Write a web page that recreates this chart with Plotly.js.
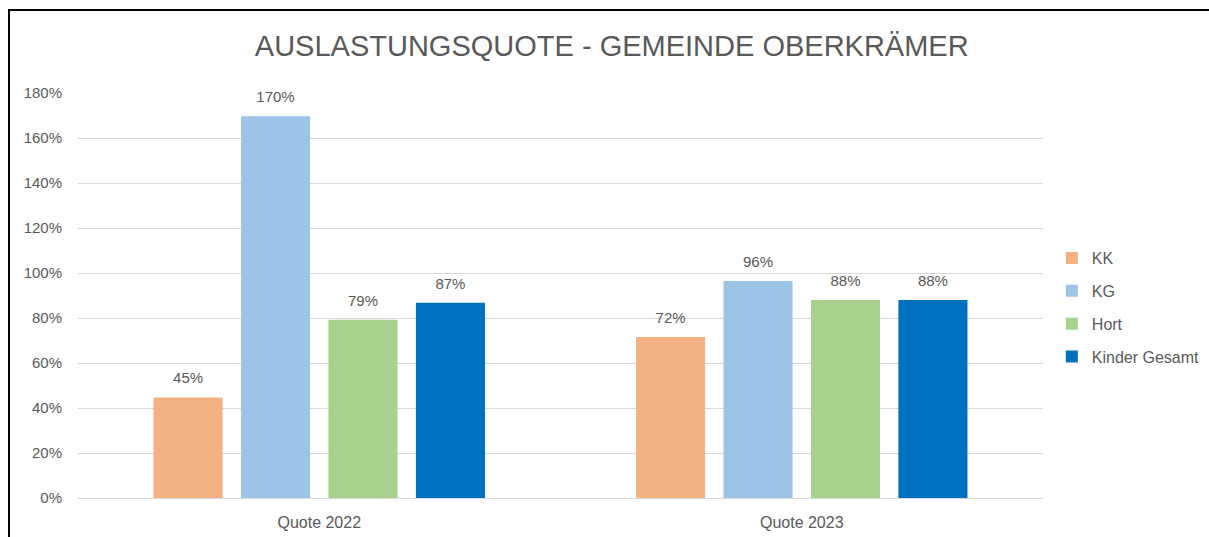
<!DOCTYPE html>
<html>
<head>
<meta charset="utf-8">
<script src="https://cdn.plot.ly/plotly-3.0.1.min.js"></script>
<style>
  html, body { margin: 0; padding: 0; background: #fff; }
  #wrap { position: relative; width: 1209px; height: 537px; overflow: hidden; }
  #chart { position: absolute; left: 0; top: 0; width: 1209px; height: 537px; }
  #frame { position: absolute; left: 8px; top: 9px; width: 1210px; height: 540px;
           border-left: 2px solid #000; border-top: 2px solid #000; pointer-events: none; }
</style>
</head>
<body>
<div id="wrap">
  <div id="chart"></div>
  <div id="frame"></div>
</div>
<script>
const categories = ["Quote 2022", "Quote 2023"];
const seriesNames = ["KK", "KG", "Hort", "Kinder Gesamt"];
const kk = [0.447, 0.716];
const kg = [1.697, 0.964];
const hort = [0.792, 0.880];
const kinderGesamt = [0.868, 0.880];
const seriesValues = [kk, kg, hort, kinderGesamt];
const colors = ["#F4B183", "#9DC3E6", "#A9D18E", "#0070C0"];
const yTicks = [0, 0.2, 0.4, 0.6, 0.8, 1.0, 1.2, 1.4, 1.6, 1.8];

const fontFam = "Liberation Sans, Arial, sans-serif";
const grey = "#595959";
const GAP = 0.275;

const barTraces = seriesNames.map((name, i) => ({
  type: "bar",
  name: name,
  x: categories,
  y: seriesValues[i],
  marker: { color: colors[i] },
  legendgroup: "g" + i,
  hoverinfo: "skip"
}));

const labelTraces = seriesNames.map((name, i) => ({
  type: "scatter",
  mode: "markers+text",
  name: name + " label",
  x: categories,
  y: seriesValues[i],
  text: seriesValues[i].map(v => Math.round(v * 100) + "%"),
  textposition: "top center",
  textfont: { family: fontFam, size: 15, color: grey },
  marker: { size: 15, opacity: 0, color: colors[i] },
  cliponaxis: false,
  showlegend: false,
  hoverinfo: "skip"
}));

const layout = {
  width: 1209,
  height: 537,
  margin: { l: 78, r: 166, t: 93, b: 39, autoexpand: false },
  paper_bgcolor: "#ffffff",
  plot_bgcolor: "#ffffff",
  font: { family: fontFam, color: grey, size: 14 },
  title: {
    text: "AUSLASTUNGSQUOTE - GEMEINDE OBERKRÄMER",
    font: { family: fontFam, size: 29, color: grey },
    x: 0.506, xanchor: "center",
    y: 0.914, yanchor: "middle", yref: "container"
  },
  barmode: "group",
  bargap: GAP,
  bargroupgap: 0.21,
  scattermode: "group",
  scattergap: GAP,
  xaxis: {
    type: "category",
    showgrid: false,
    showline: false,
    zeroline: false,
    ticks: "",
    ticklabelstandoff: 13,
    tickfont: { family: fontFam, size: 16, color: grey }
  },
  yaxis: {
    range: [0, 1.8],
    tickvals: yTicks,
    tickformat: ".0%",
    showgrid: true,
    gridcolor: "#D9D9D9",
    gridwidth: 1,
    zeroline: true,
    zerolinecolor: "#D9D9D9",
    zerolinewidth: 1,
    showline: false,
    ticks: "",
    ticklabelstandoff: 15,
    tickfont: { family: fontFam, size: 15, color: grey }
  },
  showlegend: true,
  legend: {
    xref: "container",
    x: 0.870, xanchor: "left",
    y: 0.47, yanchor: "middle",
    traceorder: "grouped",
    tracegroupgap: 9,
    font: { family: fontFam, size: 16, color: grey },
    bgcolor: "rgba(0,0,0,0)"
  }
};

Plotly.newPlot("chart", barTraces.concat(labelTraces), layout, { displayModeBar: false, staticPlot: true });
</script>
</body>
</html>
